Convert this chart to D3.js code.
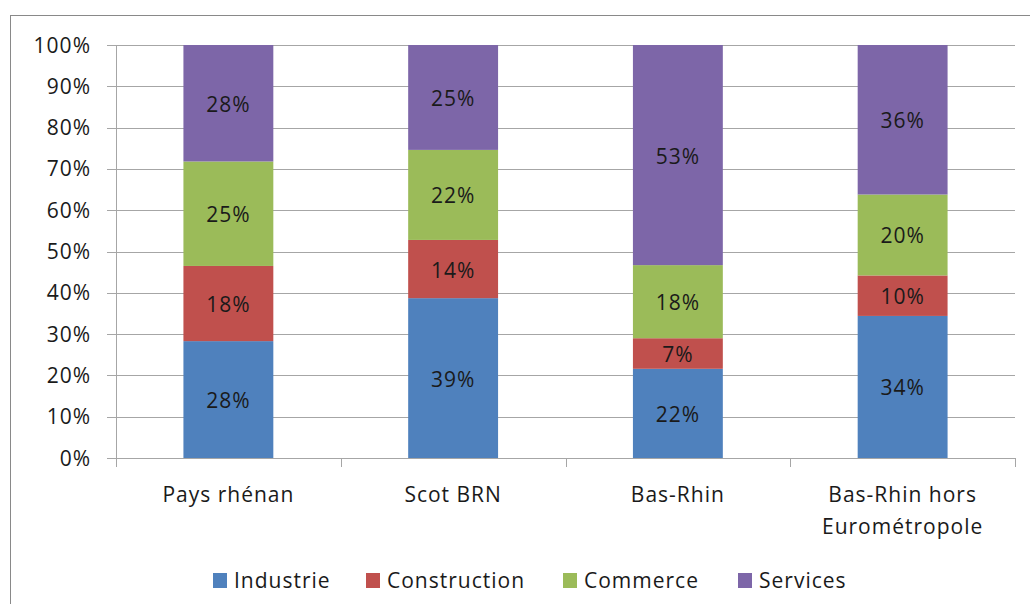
<!DOCTYPE html>
<html>
<head>
<meta charset="utf-8">
<script src="https://cdn.jsdelivr.net/npm/d3@7/dist/d3.min.js"></script>
<style>
	body { margin: 0; background: #fff; }
	svg { display: block; font-family: "Open Sans", Lato, sans-serif; }
	.grid line { stroke: #a6a6a6; stroke-width: 1; }
	.axis-text, .bar-text, .legend-text { font-size: 21px; fill: #1a1a1a; letter-spacing: 1px; }
</style>
</head>
<body>
<svg width="1030" height="604"></svg>
<script>
var categories = [['Pays rhénan'], ['Scot BRN'], ['Bas-Rhin'], ['Bas-Rhin hors', 'Eurométropole']];
var seriesNames = ['Industrie', 'Construction', 'Commerce', 'Services'];
var industrie = [28.3, 38.7, 21.6, 34.4];
var construction = [18.2, 14.1, 7.4, 9.8];
var commerce = [25.3, 21.8, 17.7, 19.6];
var services = [28.2, 25.4, 53.3, 36.2];
var yTicks = [0, 10, 20, 30, 40, 50, 60, 70, 80, 90, 100];
var colors = ['#4f81bd', '#c0504d', '#9bbb59', '#7d66a8'];

function StackedView(){

}

StackedView.prototype.render = function(opts){
	this.opts = opts;
	this.svg = d3.select('svg');
	this.svg.append('rect')
		.attr('x', 10.5).attr('y', 15.5)
		.attr('width', 1100).attr('height', 700)
		.attr('fill', 'none').attr('stroke', '#898989');

	this.x = d3.scaleBand().domain(d3.range(categories.length)).range([opts.left, opts.right]).paddingInner(0).paddingOuter(0);
	this.y = d3.scaleLinear().domain([0, 100]).range([opts.bottom, opts.top]);

	this.addGrid();
	this.addBars();
	this.addXAxis();
	this.addLegend();
}

StackedView.prototype.addGrid = function(){
	var o = this.opts, y = this.y;
	var g = this.svg.append('g').attr('class', 'grid');
	g.selectAll('line').data(yTicks).enter().append('line')
		.attr('x1', o.left - 9).attr('x2', o.right)
		.attr('y1', function(d){ return Math.round(y(d)) + 0.5; })
		.attr('y2', function(d){ return Math.round(y(d)) + 0.5; });
	g.append('line')
		.attr('x1', o.left + 0.5).attr('x2', o.left + 0.5)
		.attr('y1', o.top).attr('y2', o.bottom + 9);
	this.svg.append('g').selectAll('text').data(yTicks).enter().append('text')
		.attr('class', 'axis-text')
		.attr('x', o.left - 25)
		.attr('y', function(d){ return y(d) + 7.5; })
		.attr('text-anchor', 'end')
		.text(function(d){ return d + '%'; });
}

StackedView.prototype.addBars = function(){
	var x = this.x, y = this.y;
	var rows = categories.map(function(c, i){
		return { i: i, Industrie: industrie[i], Construction: construction[i], Commerce: commerce[i], Services: services[i] };
	});
	var stack = d3.stack().keys(seriesNames)(rows);
	var bw = x.bandwidth() * 0.4;
	var g = this.svg.append('g');
	stack.forEach(function(layer, k){
		var lg = g.append('g');
		lg.selectAll('rect').data(layer).enter().append('rect')
			.attr('x', function(d){ return x(d.data.i) + (x.bandwidth() - bw) / 2; })
			.attr('width', bw)
			.attr('y', function(d){ return y(d[1]); })
			.attr('height', function(d){ return y(d[0]) - y(d[1]); })
			.attr('fill', colors[k]);
		lg.selectAll('text').data(layer).enter().append('text')
			.attr('class', 'bar-text')
			.attr('x', function(d){ return x(d.data.i) + x.bandwidth() / 2; })
			.attr('y', function(d){ return (y(d[0]) + y(d[1])) / 2 + 8.5; })
			.attr('text-anchor', 'middle')
			.text(function(d){ return Math.round(d[1] - d[0]) + '%'; });
	});
}

StackedView.prototype.addXAxis = function(){
	var o = this.opts, x = this.x;
	var g = this.svg.append('g').attr('class', 'grid');
	g.selectAll('line').data(d3.range(categories.length + 1)).enter().append('line')
		.attr('x1', function(i){ return Math.round(o.left + i * x.bandwidth()) + 0.5; })
		.attr('x2', function(i){ return Math.round(o.left + i * x.bandwidth()) + 0.5; })
		.attr('y1', o.bottom).attr('y2', o.bottom + 9);
	var lbl = this.svg.append('g').selectAll('text').data(categories).enter().append('text')
		.attr('class', 'axis-text')
		.attr('text-anchor', 'middle')
		.attr('x', function(d, i){ return x(i) + x.bandwidth() / 2; })
		.attr('y', o.bottom + 44);
	lbl.selectAll('tspan').data(function(d){ return d; }).enter().append('tspan')
		.attr('x', function(){ return d3.select(this.parentNode).attr('x'); })
		.attr('dy', function(d, i){ return i ? 32 : 0; })
		.text(function(d){ return d; });
}

StackedView.prototype.addLegend = function(){
	var lx = [213, 366, 563, 738];
	var g = this.svg.append('g');
	seriesNames.forEach(function(s, k){
		g.append('rect').attr('x', lx[k]).attr('y', 573).attr('width', 14).attr('height', 15).attr('fill', colors[k]);
		g.append('text').attr('class', 'legend-text').attr('x', lx[k] + 21).attr('y', 588).text(s);
	});
}

new StackedView().render({ left: 116, right: 1015, top: 45, bottom: 458 });
</script>
</body>
</html>
